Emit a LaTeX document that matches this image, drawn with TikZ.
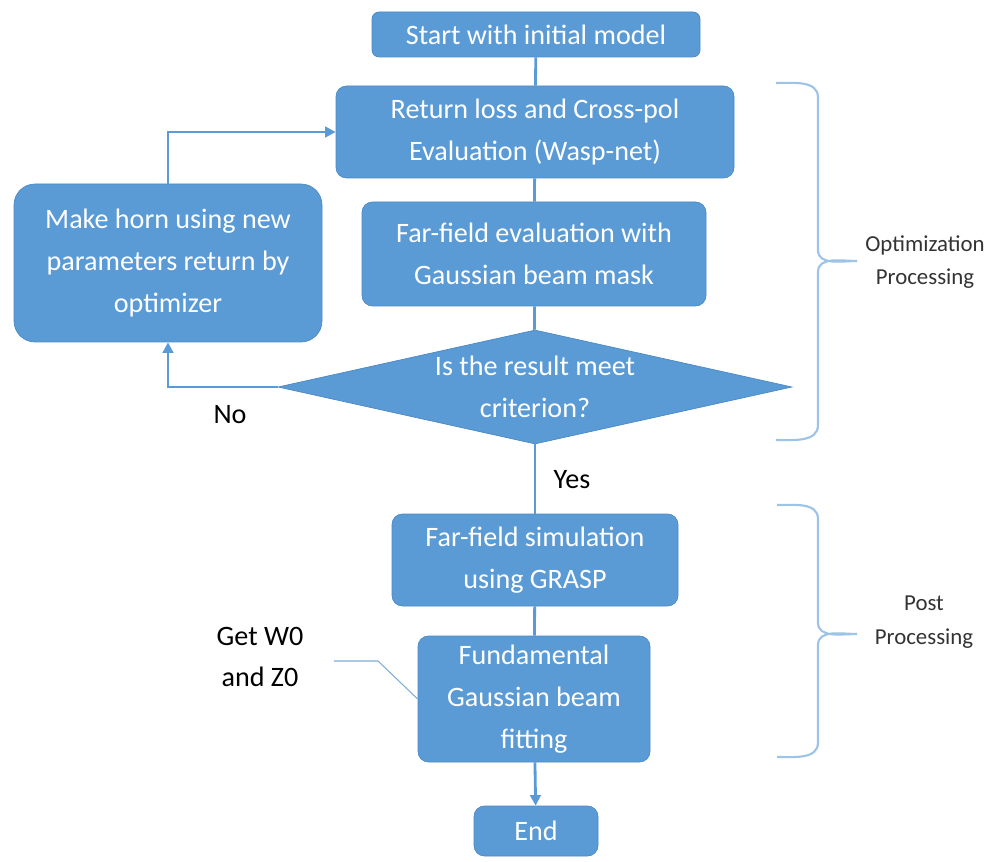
\documentclass[tikz,border=0pt]{standalone}
\usepackage{fontspec}
\setmainfont{Carlito}
\usepackage{tikz}
\usetikzlibrary{shapes.geometric, arrows.meta}
\usepackage{xcolor}
\definecolor{boxblue}{HTML}{5B9BD5}
\definecolor{edgeblue}{HTML}{4A89C4}
\definecolor{braceblue}{HTML}{9DC3E6}

\begin{document}
\begin{tikzpicture}[
    block/.style={draw=edgeblue, fill=boxblue, text=white, rounded corners=6pt,
      align=center, font=\fontsize{16}{24}\selectfont, inner sep=2pt},
    decision/.style={diamond, draw=edgeblue, fill=boxblue, text=white, aspect=4.5,
      align=center, inner sep=0pt, font=\fontsize{16}{24}\selectfont},
    line/.style={draw=boxblue, line width=1.6pt},
    arrow/.style={line, -{Triangle[width=6pt,length=6pt]}},
    bracket/.style={draw=braceblue, line width=1.2pt},
    note/.style={align=center, font=\fontsize{16}{23}\selectfont},
    side/.style={align=center, text=black!80, font=\fontsize{13}{19}\selectfont}]
    \useasboundingbox (0,0) rectangle (19.8,-17.24);
        % Blocos
        \node[block, minimum width=6.56cm, minimum height=0.9cm, rounded corners=4pt] (start) at (10.72,-0.69) {Start with initial model};
        \node[block, minimum width=7.96cm, minimum height=1.84cm] (loss) at (10.7,-2.64) {Return loss and Cross-pol\\Evaluation (Wasp-net)};
        \node[block, minimum width=6.88cm, minimum height=2.08cm] (far) at (10.68,-5.08) {Far-field evaluation with\\Gaussian beam mask};
        \node[block, minimum width=6.16cm, minimum height=3.16cm, rounded corners=12pt] (horn) at (3.36,-5.26) {Make horn using new\\parameters return by\\optimizer};
        \node[decision, minimum width=10.28cm, minimum height=2.28cm] (check) at (10.7,-7.74) {Is the result meet\\criterion?};
        \node[block, minimum width=5.72cm, minimum height=1.84cm] (grasp) at (10.7,-11.2) {Far-field simulation\\using GRASP};
        \node[block, minimum width=4.64cm, minimum height=2.52cm] (fit) at (10.68,-13.98) {Fundamental\\Gaussian beam\\fitting};
        \node[block, minimum width=2.48cm, minimum height=1.0cm] (end) at (10.72,-16.62) {End};
        % Ligacoes
        \draw[line] (start) -- (loss);
        \draw[line] (loss) -- (far);
        \draw[line] (far) -- (check);
        \draw[line] (check) -- (grasp);
        \node[note] (yes) at (11.44,-9.6) {Yes};
        \draw[line] (grasp) -- (fit);
        \draw[arrow] (fit) -- (end);
        \draw[arrow] (check.west) -| (horn.south);
        \draw[arrow] (horn.north) |- (loss.west);
        \node[note] (no) at (4.6,-8.3) {No};
        % Nota
        \node[note] (get) at (5.2,-13.14) {Get W0\\and Z0};
        \coordinate (bend) at (7.56,-13.22);
        \draw[draw=edgeblue!70, line width=0.6pt] (6.68,-13.22) -- (bend) -- (fit.west);
        % Chaves
        \draw[bracket] (15.52,-1.66) to[out=0,in=90] (16.36,-1.95) -- (16.36,-5.0)
            to[out=-90,in=180] (17.14,-5.22) to[out=180,in=90] (16.36,-5.44)
            -- (16.36,-8.5) to[out=-90,in=0] (15.52,-8.8);
        \node[side] (opt) at (18.5,-5.24) {Optimization\\Processing};
        \draw[bracket] (15.54,-10.1) to[out=0,in=90] (16.36,-10.38) -- (16.36,-12.45)
            to[out=-90,in=180] (17.14,-12.68) to[out=180,in=90] (16.36,-12.9)
            -- (16.36,-14.85) to[out=-90,in=0] (15.54,-15.14);
        \node[side] (post) at (18.48,-12.44) {Post\\Processing};
    \end{tikzpicture}
\end{document}
